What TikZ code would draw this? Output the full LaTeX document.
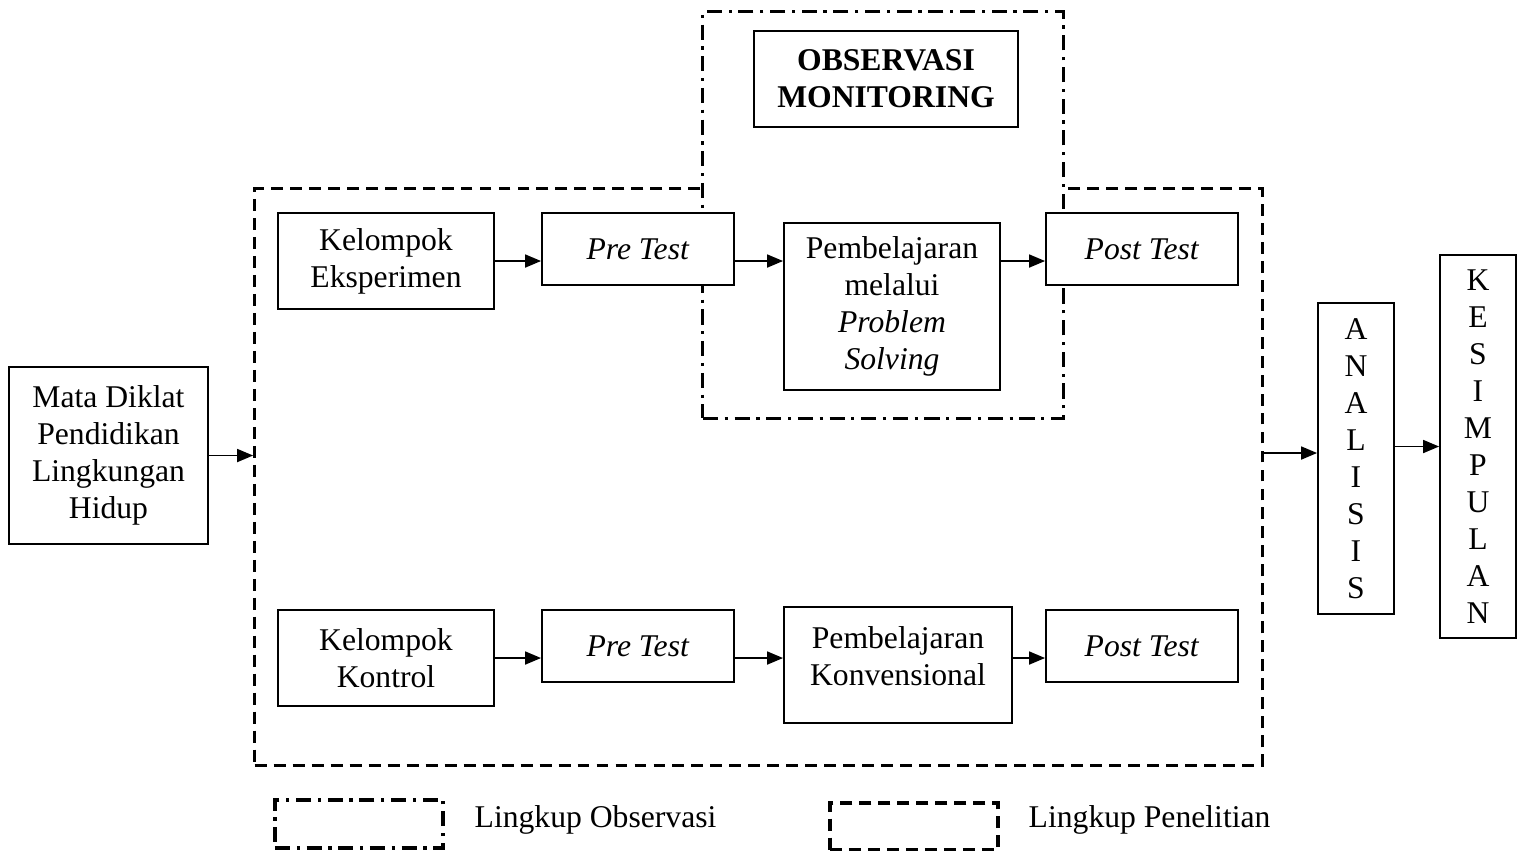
\documentclass[tikz,border=0pt]{standalone}
\usepackage{fontspec}
\setmainfont{Liberation Serif}
\usetikzlibrary{arrows.meta}

\begin{document}
\begin{tikzpicture}[x=0.01cm,y=-0.01cm,font=\fontsize{9pt}{10.5pt}\selectfont,
    box/.style={draw,line width=0.5pt,fill=white,align=center,inner sep=0pt},
    lingkupp/.style={draw,line width=0.9pt,dash pattern=on 3.4pt off 2pt,inner sep=0pt},
    lingkupo/.style={draw,line width=0.9pt,dash pattern=on 4.3pt off 1.9pt on 0.9pt off 1.9pt,inner sep=0pt},
    panah/.style={line width=0.5pt,-{Triangle[length=0.16cm,width=0.13cm]}}]
    \useasboundingbox (0,0) rectangle (1518,850);

    % Lingkup penelitian dan observasi
    \node[lingkupp,minimum width=10.07cm,minimum height=5.76cm] (pen) at (758.5,477) {};
    \node[lingkupo,fill=white,minimum width=3.60cm,minimum height=4.06cm] (obs) at (883,215) {};
    \node[box,minimum width=2.64cm,minimum height=0.96cm,font=\fontsize{9pt}{10.5pt}\selectfont\bfseries] (monitor) at (886,79) {OBSERVASI\\MONITORING};

    % Masukan
    \node[box,minimum width=1.99cm,minimum height=1.77cm] (mata) at (108.5,455.5) {Mata Diklat\\Pendidikan\\Lingkungan\\Hidup};

    % Kelompok eksperimen
    \node[box,minimum width=2.16cm,minimum height=0.96cm] (eksp) at (386,261) {Kelompok\\Eksperimen};
    \node[box,minimum width=1.92cm,minimum height=0.72cm] (pre1) at (638,249) {\textit{Pre Test}};
    \node[box,minimum width=2.16cm,minimum height=1.67cm] (pbl) at (892,306.5) {Pembelajaran\\melalui\\\textit{Problem}\\\textit{Solving}};
    \node[box,minimum width=1.92cm,minimum height=0.72cm] (post1) at (1142,249) {\textit{Post Test}};

    % Kelompok kontrol
    \node[box,minimum width=2.16cm,minimum height=0.96cm] (kontrol) at (386,658) {Kelompok\\Kontrol};
    \node[box,minimum width=1.92cm,minimum height=0.72cm] (pre2) at (638,646) {\textit{Pre Test}};
    \node[box,minimum width=2.28cm,minimum height=1.16cm] (konv) at (898,665) {};
    \node[align=center,inner sep=0pt] (konvteks) at (898,656) {Pembelajaran\\Konvensional};
    \node[box,minimum width=1.92cm,minimum height=0.72cm] (post2) at (1142,646) {\textit{Post Test}};

    % Analisis dan kesimpulan
    \node[box,minimum width=0.76cm,minimum height=3.11cm] (analisis) at (1356,458.5) {A\\N\\A\\L\\I\\S\\I\\S};
    \node[box,minimum width=0.76cm,minimum height=3.83cm] (kesim) at (1478,446.5) {K\\E\\S\\I\\M\\P\\U\\L\\A\\N};

    % Panah
    \draw[panah] (mata.east) -- (mata.east -| pen.west);
    \draw[panah] (eksp.east) -- (eksp.east -| pre1.west);
    \draw[panah] (pre1.east |- eksp) -- (pbl.west |- eksp);
    \draw[panah] (pbl.east |- eksp) -- (post1.west |- eksp);
    \draw[panah] (kontrol.east) -- (kontrol.east -| pre2.west);
    \draw[panah] (pre2.east |- kontrol) -- (konv.west |- kontrol);
    \draw[panah] (konv.east |- kontrol) -- (post2.west |- kontrol);
    \draw[panah] (pen.east |- 0,453) -- (analisis.west |- 0,453);
    \draw[panah] (analisis.east |- kesim) -- (kesim.west);

    % Keterangan
    \node[lingkupo,minimum width=1.68cm,minimum height=0.48cm] (legobs) at (359,824) {};
    \node[anchor=west,inner sep=0pt] (tekobs) at (474,820) {Lingkup Observasi};
    \node[lingkupp,minimum width=1.68cm,minimum height=0.47cm] (legpen) at (914,826.5) {};
    \node[anchor=west,inner sep=0pt] (tekpen) at (1028,820) {Lingkup Penelitian};
\end{tikzpicture}
\end{document}
